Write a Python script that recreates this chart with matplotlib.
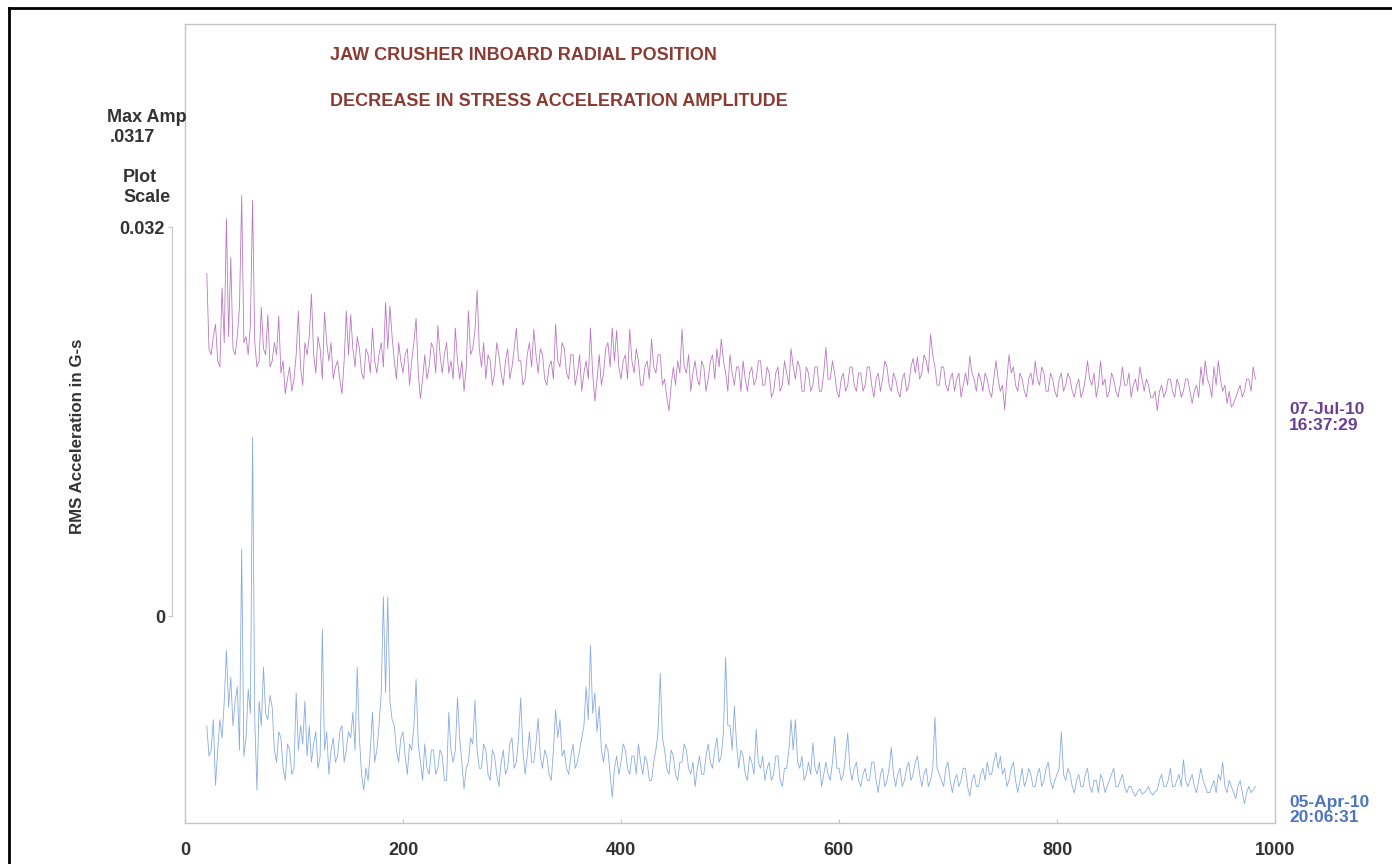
import numpy as np
import matplotlib.pyplot as plt
from matplotlib.lines import Line2D

# RMS acceleration spectra, milli-G, bins every 2 Hz starting at 20 Hz
jul_mg = [
    13.2, 7.0, 6.5, 8.0, 9.0, 6.0, 5.5, 12.0, 7.5, 17.7, 8.0, 14.5, 7.0, 6.5, 8.0, 10.5, 19.6, 7.5, 8.0, 6.5,
    9.0, 19.2, 7.5, 5.5, 6.0, 10.4, 7.0, 6.5, 9.8, 5.5, 6.0, 7.5, 6.5, 9.7, 5.0, 6.0, 3.3, 4.5, 5.5, 3.5,
    4.5, 6.5, 10.1, 5.5, 4.0, 7.5, 6.5, 8.0, 11.5, 6.5, 5.0, 8.0, 7.0, 4.5, 10.0, 7.5, 6.0, 7.5, 4.5, 5.5,
    6.0, 4.5, 3.3, 6.0, 10.1, 6.5, 9.8, 7.0, 5.5, 8.0, 7.0, 5.0, 4.5, 7.0, 6.5, 5.0, 8.7, 6.0, 5.0, 6.5,
    7.5, 5.5, 10.8, 7.0, 10.5, 8.0, 6.0, 4.5, 7.5, 6.0, 5.0, 6.5, 7.0, 4.0, 6.0, 7.5, 9.5, 5.0, 2.9, 4.5,
    6.5, 4.5, 5.5, 7.5, 7.0, 5.0, 8.9, 6.5, 5.0, 6.5, 7.5, 5.0, 6.0, 4.5, 8.7, 6.0, 4.5, 6.0, 3.5, 5.5,
    10.1, 6.5, 7.0, 8.5, 11.8, 7.0, 5.5, 7.5, 4.5, 6.5, 6.0, 4.0, 5.0, 7.5, 6.5, 5.0, 4.0, 6.0, 7.0, 4.5,
    5.5, 7.0, 8.7, 6.0, 6.0, 4.0, 4.5, 6.5, 7.5, 5.5, 8.6, 6.5, 5.0, 7.0, 6.5, 4.5, 4.0, 5.5, 6.0, 4.5,
    9.0, 6.0, 5.5, 7.5, 7.0, 5.0, 4.5, 6.5, 6.5, 4.0, 5.0, 6.5, 3.5, 5.0, 6.0, 4.5, 8.7, 5.0, 2.7, 4.5,
    6.5, 4.0, 5.0, 7.0, 7.5, 5.5, 8.7, 6.0, 8.5, 5.5, 4.5, 6.0, 6.5, 4.5, 8.6, 6.0, 5.0, 7.0, 6.0, 4.0,
    4.0, 5.5, 6.0, 4.5, 7.8, 5.5, 5.0, 6.5, 6.5, 4.0, 4.5, 3.0, 1.9, 4.0, 5.5, 4.0, 6.0, 5.0, 8.6, 5.5,
    5.0, 6.5, 3.5, 5.0, 6.0, 4.5, 4.0, 6.0, 5.5, 3.5, 4.5, 6.0, 6.5, 4.5, 7.0, 5.5, 7.8, 6.0, 5.0, 3.5,
    6.5, 5.0, 4.0, 5.5, 5.5, 3.5, 6.0, 4.5, 3.5, 5.0, 5.5, 4.0, 4.5, 6.0, 6.0, 4.0, 4.0, 5.5, 5.0, 3.0,
    3.5, 5.0, 5.5, 3.5, 4.0, 6.0, 5.0, 4.0, 7.0, 5.5, 4.5, 6.0, 5.5, 3.5, 3.5, 5.5, 5.0, 3.5, 4.0, 5.5,
    5.5, 3.5, 3.5, 5.0, 7.1, 4.5, 4.5, 6.0, 5.0, 3.5, 3.0, 4.5, 5.0, 3.5, 4.0, 5.5, 5.5, 4.0, 3.5, 5.0,
    5.0, 3.5, 4.0, 5.5, 5.5, 4.0, 3.0, 4.5, 5.0, 3.5, 4.5, 6.0, 5.5, 4.0, 3.5, 5.0, 4.5, 3.5, 3.0, 4.5,
    5.0, 3.5, 4.0, 5.5, 6.2, 5.0, 6.3, 4.5, 5.0, 6.5, 6.0, 5.0, 8.2, 6.5, 5.5, 4.0, 4.0, 5.5, 5.5, 4.0,
    3.5, 4.5, 5.0, 3.5, 4.5, 5.0, 3.0, 4.0, 5.0, 4.0, 6.4, 5.0, 4.5, 3.5, 5.0, 4.5, 3.5, 5.0, 4.5, 3.5,
    3.0, 4.5, 6.0, 4.5, 3.5, 4.0, 2.0, 4.5, 6.5, 5.0, 5.5, 4.0, 3.5, 5.0, 4.5, 3.5, 3.0, 4.5, 5.0, 4.0,
    6.0, 4.5, 4.0, 5.5, 5.0, 3.5, 3.5, 5.0, 4.5, 3.5, 3.0, 4.5, 5.0, 3.5, 4.0, 5.0, 4.5, 3.5, 3.0, 4.0,
    4.5, 3.0, 3.5, 4.5, 6.0, 4.5, 4.0, 5.0, 3.0, 4.0, 6.0, 4.0, 4.5, 3.0, 3.5, 5.0, 4.5, 3.5, 3.0, 4.0,
    5.5, 4.0, 4.0, 5.0, 3.0, 4.0, 4.5, 3.5, 5.5, 4.5, 3.5, 4.5, 4.0, 3.0, 3.0, 3.5, 1.9, 3.5, 4.0, 3.0,
    3.5, 4.5, 4.5, 3.5, 3.0, 4.5, 4.0, 3.0, 3.5, 4.5, 4.5, 3.5, 2.5, 3.5, 4.0, 3.0, 5.5, 4.0, 6.0, 4.5,
    4.0, 3.0, 5.5, 4.0, 6.0, 4.5, 3.5, 4.0, 2.5, 3.5, 2.2, 2.5, 3.0, 3.5, 4.0, 3.0, 3.5, 4.5, 4.5, 3.5,
    5.5, 4.5,
]
apr_mg = [
    8.0, 5.5, 6.0, 8.5, 3.1, 6.0, 8.5, 7.0, 10.0, 14.2, 9.5, 12.0, 8.0, 10.0, 11.2, 6.0, 22.5, 5.5, 7.0, 11.0,
    9.0, 31.7, 8.5, 2.7, 10.0, 8.0, 12.8, 9.0, 8.5, 10.5, 9.5, 6.0, 5.0, 7.5, 7.0, 4.5, 3.5, 6.5, 6.0, 4.0,
    4.5, 10.7, 6.0, 8.0, 6.5, 10.0, 5.5, 8.0, 5.0, 6.5, 7.5, 4.5, 5.5, 15.9, 6.0, 7.5, 4.0, 6.0, 7.0, 5.0,
    5.5, 7.5, 8.0, 5.0, 6.0, 7.5, 7.0, 9.1, 6.0, 12.8, 7.0, 4.0, 2.7, 4.5, 3.5, 6.0, 9.1, 5.0, 6.0, 8.0,
    10.7, 18.6, 10.7, 18.6, 10.0, 8.5, 8.0, 6.0, 5.0, 7.0, 7.5, 5.5, 4.0, 6.5, 6.0, 8.0, 11.8, 6.5, 5.0, 3.5,
    6.5, 4.5, 4.0, 6.0, 6.0, 4.0, 4.5, 6.0, 5.5, 3.5, 3.5, 9.1, 6.0, 5.0, 6.0, 10.3, 7.0, 5.0, 2.8, 4.5,
    5.0, 7.0, 6.5, 10.1, 6.0, 4.5, 4.5, 6.5, 6.0, 4.0, 3.5, 6.0, 5.5, 4.0, 3.0, 5.0, 6.0, 4.0, 4.5, 6.5,
    7.0, 4.5, 5.0, 7.0, 10.3, 6.0, 4.0, 5.5, 7.5, 5.0, 5.0, 6.5, 8.6, 5.5, 4.5, 6.0, 5.5, 4.0, 3.5, 6.0,
    9.3, 7.0, 8.5, 5.5, 6.0, 4.5, 4.0, 5.5, 6.5, 4.5, 5.0, 6.0, 7.0, 8.0, 11.2, 8.5, 14.6, 9.0, 10.7, 7.5,
    9.6, 6.0, 5.0, 6.5, 6.0, 4.0, 2.1, 4.5, 5.5, 4.0, 5.0, 6.5, 6.0, 4.5, 4.0, 5.5, 5.5, 4.0, 6.5, 5.0,
    4.0, 5.5, 5.0, 3.5, 3.5, 5.0, 6.0, 7.5, 12.3, 7.0, 6.0, 4.5, 4.0, 6.0, 5.5, 4.0, 3.5, 5.0, 5.0, 6.5,
    6.0, 4.5, 4.0, 5.0, 3.0, 4.5, 5.5, 4.0, 4.0, 5.5, 6.5, 5.0, 4.5, 6.0, 7.0, 5.0, 5.5, 7.5, 13.6, 8.0,
    8.0, 6.0, 9.6, 6.5, 4.5, 6.0, 5.5, 4.0, 3.5, 5.5, 5.0, 4.0, 7.7, 5.0, 4.5, 5.5, 3.5, 4.5, 5.0, 3.5,
    4.0, 5.5, 5.5, 3.5, 3.0, 4.5, 4.5, 6.0, 8.5, 6.0, 8.5, 5.0, 4.5, 5.5, 3.5, 4.0, 5.0, 4.0, 6.6, 4.5,
    4.0, 5.0, 3.0, 4.0, 5.0, 4.0, 3.5, 5.0, 7.1, 4.5, 4.5, 3.5, 4.0, 5.5, 7.4, 4.5, 3.5, 4.5, 5.0, 3.5,
    3.0, 4.0, 4.5, 3.5, 3.5, 5.0, 5.0, 3.5, 2.5, 4.0, 4.5, 3.0, 3.5, 4.5, 6.2, 4.0, 3.0, 4.0, 4.5, 3.0,
    3.5, 4.5, 5.0, 3.5, 4.0, 5.0, 5.5, 4.0, 3.0, 4.0, 4.5, 3.0, 3.5, 4.5, 8.7, 4.5, 4.0, 3.5, 3.0, 4.5,
    5.0, 3.5, 2.5, 3.5, 4.0, 3.0, 3.5, 4.5, 4.5, 3.0, 2.2, 3.5, 4.0, 3.0, 3.0, 4.0, 4.5, 3.5, 5.0, 4.0,
    4.0, 5.0, 5.8, 4.5, 5.5, 4.0, 4.5, 3.0, 3.5, 4.5, 5.0, 3.5, 2.5, 3.5, 4.5, 3.0, 3.5, 4.5, 4.0, 3.0,
    3.0, 4.0, 4.5, 3.0, 3.5, 4.5, 5.0, 3.5, 2.8, 3.5, 4.0, 4.5, 7.5, 4.0, 3.5, 4.5, 4.0, 3.0, 2.5, 3.5,
    4.0, 3.0, 3.0, 4.0, 4.5, 3.0, 2.5, 3.5, 3.5, 2.5, 4.0, 3.5, 2.5, 3.0, 3.5, 4.0, 4.5, 3.0, 3.0, 3.5,
    4.0, 3.0, 2.5, 3.0, 3.0, 2.5, 2.2, 2.6, 2.8, 2.4, 2.5, 2.7, 3.0, 2.5, 2.3, 2.6, 2.7, 3.5, 4.0, 3.0,
    3.0, 3.5, 4.5, 3.0, 3.0, 3.5, 4.0, 3.0, 5.2, 3.5, 3.0, 3.5, 4.0, 3.0, 2.5, 3.5, 4.5, 3.5, 3.0, 2.5,
    2.5, 3.0, 3.5, 2.5, 4.0, 3.5, 5.0, 3.0, 2.5, 3.5, 3.0, 2.5, 2.0, 3.0, 3.5, 2.5, 1.6, 2.5, 3.0, 2.5,
    2.7, 3.0,
]
jul_stamp = ["07-Jul-10", "16:37:29"]
apr_stamp = ["05-Apr-10", "20:06:31"]
x_ticks = [0, 200, 400, 600, 800, 1000]
plot_scale = 0.032
max_amp = ".0317"

freq_jul = 20 + 2 * np.arange(len(jul_mg))
freq_apr = 20 + 2 * np.arange(len(apr_mg))

W, H = 1392, 864
plt.rcParams['font.family'] = ['Liberation Sans', 'DejaVu Sans']

def fx(x, y):
    return x / W, 1 - y / H

fig = plt.figure(figsize=(W / 100, H / 100), dpi=100)
ax = fig.add_axes([185 / W, 1 - 823 / H, 1090 / W, 799 / H])

# waterfall: older spectrum in front, newer one raised by one plot scale
base_apr = -0.0170
base_jul = base_apr + plot_scale
ax.plot(freq_jul, base_jul + np.array(jul_mg) * 1e-3, color='#bb78c4', lw=0.6)
ax.plot(freq_apr, base_apr + np.array(apr_mg) * 1e-3, color='#88abe2', lw=0.6)

ax.set_xlim(0, 1000)
ax.set_ylim(base_apr, 0.0487)

box_c = '#c4c4c4'
for s in ['top', 'right', 'bottom']:
    ax.spines[s].set_color(box_c)
    ax.spines[s].set_linewidth(1.0)
ax.axvline(0, color=box_c, lw=1.0, clip_on=False)

# amplitude scale bar on the left
ax.spines['left'].set_position(('outward', 9.4))
ax.spines['left'].set_bounds(0, plot_scale)
ax.spines['left'].set_color(box_c)
ax.set_yticks([0, plot_scale])
ax.set_yticklabels(['0', '0.032'])
ax.tick_params(axis='y', direction='out', length=3, color=box_c, pad=2,
               labelsize=13, labelcolor='#333333')

ax.set_xticks(x_ticks)
ax.set_xticklabels([str(t) for t in x_ticks])
ax.tick_params(axis='x', direction='in', length=3, color=box_c, pad=14,
               labelsize=13, labelcolor='#333333')
for lab in ax.get_xticklabels() + ax.get_yticklabels():
    lab.set_fontweight('bold')

txt = dict(fontsize=13, fontweight='bold', color='#333333')
fig.text(*fx(78, 436), "RMS Acceleration in G-s", rotation=90,
         ha='center', va='center', fontsize=12.2, fontweight='bold', color='#333333')
fig.text(*fx(107, 117), "Max Amp", ha='left', va='center', **txt)
fig.text(*fx(110, 137), max_amp, ha='left', va='center', **txt)
fig.text(*fx(123, 178), "Plot", ha='left', va='center', **txt)
fig.text(*fx(123, 198), "Scale", ha='left', va='center', **txt)

title_c = '#8a3b33'
fig.text(*fx(330, 55), "JAW CRUSHER INBOARD RADIAL POSITION", ha='left',
         va='center', fontsize=13, fontweight='bold', color=title_c)
fig.text(*fx(330, 101), "DECREASE IN STRESS ACCELERATION AMPLITUDE", ha='left',
         va='center', fontsize=13, fontweight='bold', color=title_c)

# spectrum time stamps next to each trace
for (line1, line2), y0, col in [(jul_stamp, 410, '#6b3f92'),
                                (apr_stamp, 802, '#4d74bf')]:
    fig.text(*fx(1289, y0), line1, ha='left', va='center', fontsize=12.5,
             fontweight='bold', color=col)
    fig.text(*fx(1289, y0 + 15), line2, ha='left', va='center', fontsize=12.5,
             fontweight='bold', color=col)

# page border
fig.add_artist(Line2D([9 / W, 9 / W], [0, 1 - 8 / H], color='black', lw=2))
fig.add_artist(Line2D([9 / W, 1], [1 - 8 / H, 1 - 8 / H], color='black', lw=2))

fig.savefig('out.png', dpi=100)
